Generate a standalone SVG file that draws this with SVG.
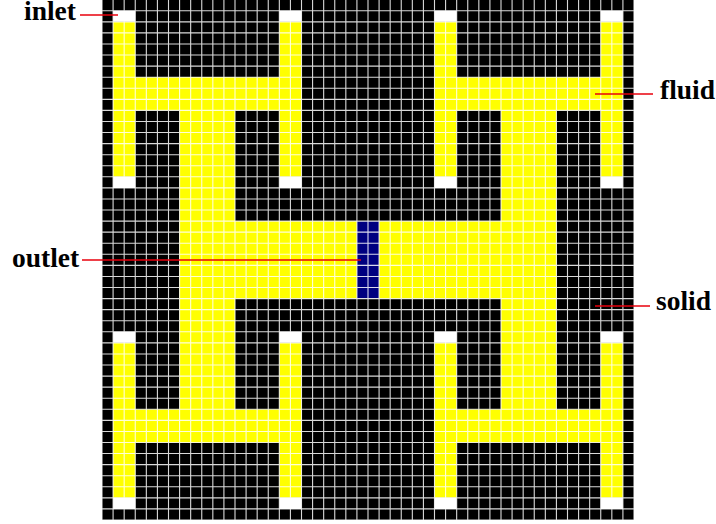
<svg xmlns="http://www.w3.org/2000/svg" width="716" height="524" viewBox="0 0 716 524">
<style>
.y{fill:#ffff00}.w{fill:#fff}.b{fill:#000080}
.g{fill:none;stroke:#fff;stroke-width:1.1;stroke-opacity:.85;vector-effect:non-scaling-stroke}
.l{stroke:#e8000c;stroke-width:1.6;fill:none}
.t{font-family:"Liberation Serif","Times New Roman",serif;font-weight:700;font-size:27.5px;fill:#000}
</style>
<rect width="716" height="524" fill="#fff"/>
<g id="lattice" transform="translate(102,-0.3) scale(11.0833,11.07)">
<rect x="0" y="0" width="48" height="47"/>
<g class="y">
<rect x="1" y="2" width="2" height="14"/><rect x="16" y="2" width="2" height="14"/><rect x="1" y="7" width="17" height="3"/>
<rect x="30" y="2" width="2" height="14"/><rect x="45" y="2" width="2" height="14"/><rect x="30" y="7" width="17" height="3"/>
<rect x="1" y="31" width="2" height="14"/><rect x="16" y="31" width="2" height="14"/><rect x="1" y="37" width="17" height="3"/>
<rect x="30" y="31" width="2" height="14"/><rect x="45" y="31" width="2" height="14"/><rect x="30" y="37" width="17" height="3"/>
<rect x="7" y="7" width="5" height="33"/><rect x="36" y="7" width="5" height="33"/><rect x="7" y="20" width="34" height="7"/>
</g>
<rect class="b" x="23" y="20" width="2" height="7"/>
<path class="w" d="M1 1h2v1h-2zM16 1h2v1h-2zM30 1h2v1h-2zM45 1h2v1h-2zM1 16h2v1h-2zM16 16h2v1h-2zM30 16h2v1h-2zM45 16h2v1h-2zM1 30h2v1h-2zM16 30h2v1h-2zM30 30h2v1h-2zM45 30h2v1h-2zM1 45h2v1h-2zM16 45h2v1h-2zM30 45h2v1h-2zM45 45h2v1h-2z"/>
<path class="g" d="M0 1H48M0 2H48M0 3H48M0 4H48M0 5H48M0 6H48M0 7H48M0 8H48M0 9H48M0 10H48M0 11H48M0 12H48M0 13H48M0 14H48M0 15H48M0 16H48M0 17H48M0 18H48M0 19H48M0 20H48M0 21H48M0 22H48M0 23H48M0 24H48M0 25H48M0 26H48M0 27H48M0 28H48M0 29H48M0 30H48M0 31H48M0 32H48M0 33H48M0 34H48M0 35H48M0 36H48M0 37H48M0 38H48M0 39H48M0 40H48M0 41H48M0 42H48M0 43H48M0 44H48M0 45H48M0 46H48M0 47H48M0 0V47M1 0V47M2 0V47M3 0V47M4 0V47M5 0V47M6 0V47M7 0V47M8 0V47M9 0V47M10 0V47M11 0V47M12 0V47M13 0V47M14 0V47M15 0V47M16 0V47M17 0V47M18 0V47M19 0V47M20 0V47M21 0V47M22 0V47M23 0V47M24 0V47M25 0V47M26 0V47M27 0V47M28 0V47M29 0V47M30 0V47M31 0V47M32 0V47M33 0V47M34 0V47M35 0V47M36 0V47M37 0V47M38 0V47M39 0V47M40 0V47M41 0V47M42 0V47M43 0V47M44 0V47M45 0V47M46 0V47M47 0V47M48 0V47"/>
</g>
<g id="connectors">
<path class="l" d="M80 15H118"/>
<path class="l" d="M595 94H653"/>
<path class="l" d="M82 260H361"/>
<path class="l" d="M595 306H650"/>
</g>
<g id="label-inlet"><text class="t" x="24" y="20">inlet</text></g>
<g id="label-fluid"><text class="t" x="660" y="99">fluid</text></g>
<g id="label-outlet"><text class="t" x="12" y="267">outlet</text></g>
<g id="label-solid"><text class="t" x="656" y="310">solid</text></g>
</svg>
